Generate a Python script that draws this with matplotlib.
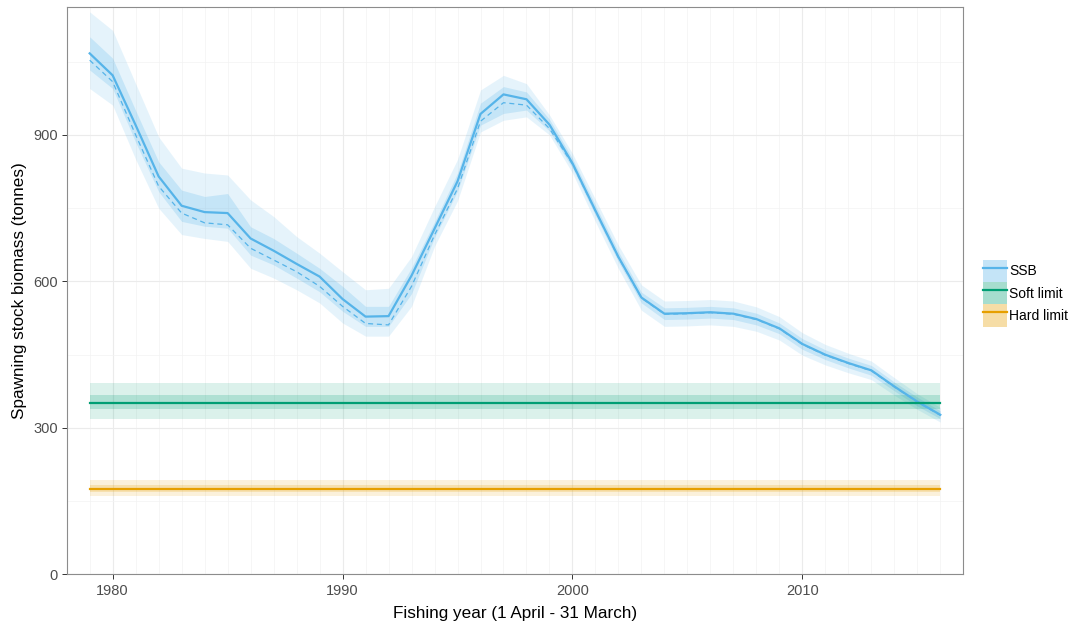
import numpy as np
import matplotlib
matplotlib.use("Agg")
import matplotlib.pyplot as plt
from matplotlib.patches import Patch
from matplotlib.lines import Line2D
from matplotlib.legend_handler import HandlerTuple

plt.rcParams["font.family"] = ["Liberation Sans", "DejaVu Sans"]

# ── data ──────────────────────────────────────────────────────────────────────
years = np.arange(1979, 2017)

ssb = [1067, 1022, 920, 815, 755, 742, 740, 688, 663, 636, 610, 564, 528, 529,
       612, 708, 805, 943, 983, 973, 921, 842, 745, 650, 567, 534, 535, 537,
       534, 523, 504, 472, 450, 433, 418, 385, 354, 327]
ssb_median = [1053, 1009, 900, 795, 740, 720, 716, 668, 644, 620, 590, 549, 514, 511,
              590, 695, 790, 928, 966, 961, 913, 840, 744, 649, 566, 533, 534, 536,
              533, 522, 503, 471, 449, 432, 417, 384, 353, 326]
inner_hi = [1101, 1057, 950, 845, 787, 774, 780, 712, 688, 658, 627, 590, 549, 549,
            628, 722, 822, 965, 999, 988, 932, 852, 756, 661, 578, 546, 547, 549,
            546, 535, 515, 483, 460, 443, 428, 394, 363, 335]
inner_lo = [1033, 995, 885, 784, 723, 713, 709, 654, 634, 607, 579, 539, 508, 508,
            575, 690, 785, 920, 944, 951, 908, 832, 735, 640, 556, 522, 523, 525,
            522, 511, 493, 461, 440, 423, 408, 376, 345, 319]
outer_hi = [1152, 1114, 1005, 896, 832, 822, 818, 767, 733, 692, 658, 620, 583, 586,
            651, 753, 850, 992, 1022, 1005, 941, 862, 768, 674, 593, 560, 561, 563,
            560, 548, 528, 495, 471, 453, 437, 403, 370, 342]
outer_lo = [995, 961, 850, 750, 696, 688, 682, 627, 607, 583, 556, 515, 488, 488,
            549, 672, 765, 906, 930, 937, 900, 822, 722, 626, 541, 508, 509, 511,
            508, 498, 480, 449, 429, 413, 399, 367, 338, 312]

soft_limit = 352
soft_inner = (338, 368)
soft_outer = (318, 392)
hard_limit = 176
hard_inner = (169, 184)
hard_outer = (160, 193)

labels = ["SSB", "Soft limit", "Hard limit"]
colors = ["#56B4E9", "#009E73", "#E69F00"]

# ── figure ────────────────────────────────────────────────────────────────────
fig = plt.figure(figsize=(10.72, 6.28), dpi=100)
ax = fig.add_axes([0.0622, 0.0852, 0.8364, 0.9037])

blue, green, orange = colors
ax.fill_between(years, outer_lo, outer_hi, color=blue, alpha=0.15, lw=0)
ax.fill_between(years, inner_lo, inner_hi, color=blue, alpha=0.22, lw=0)
ax.plot(years, ssb_median, color=blue, lw=0.9, ls=(0, (4, 3)))
ax.plot(years, ssb, color=blue, lw=1.6)

for val, inner, outer, c in [(soft_limit, soft_inner, soft_outer, green),
                             (hard_limit, hard_inner, hard_outer, orange)]:
    ax.fill_between(years, outer[0], outer[1], color=c, alpha=0.14, lw=0)
    ax.fill_between(years, inner[0], inner[1], color=c, alpha=0.2, lw=0)
    ax.plot(years, [val] * len(years), color=c, lw=1.6)

ax.set_xlim(1978.05, 2017.0)
ax.set_ylim(0, 1162)
ax.set_xticks([1980, 1990, 2000, 2010])
ax.set_xticks(np.arange(1978, 2018), minor=True)
ax.set_yticks([0, 300, 600, 900])
ax.set_yticks([150, 450, 750, 1050], minor=True)
ax.grid(which="major", color="#EBEBEB", lw=0.8)
ax.grid(which="minor", color="#F3F3F3", lw=0.5)
ax.set_axisbelow(True)
ax.tick_params(which="major", length=3.5, width=0.7, color="#333333",
               labelsize=10.5, labelcolor="#4D4D4D", pad=3)
ax.tick_params(which="minor", length=0)
for s in ax.spines.values():
    s.set_color("#8C8C8C")
    s.set_linewidth(0.8)

ax.set_xlabel("Fishing year (1 April - 31 March)", fontsize=12.3, labelpad=6)
ax.set_ylabel("Spawning stock biomass (tonnes)", fontsize=12.3, labelpad=4)

handles = []
for c in colors:
    handles.append((Patch(facecolor=c, alpha=0.35, lw=0), Line2D([], [], color=c, lw=1.6)))
fig.legend(handles, labels, handler_map={tuple: HandlerTuple(ndivide=1, pad=0)},
           loc="center left", bbox_to_anchor=(0.917, 0.533), frameon=False,
           fontsize=10, handlelength=1.7, handleheight=2.1, handletextpad=0.2,
           labelspacing=0.0, borderpad=0, borderaxespad=0)

fig.savefig("out.png", dpi=100)
